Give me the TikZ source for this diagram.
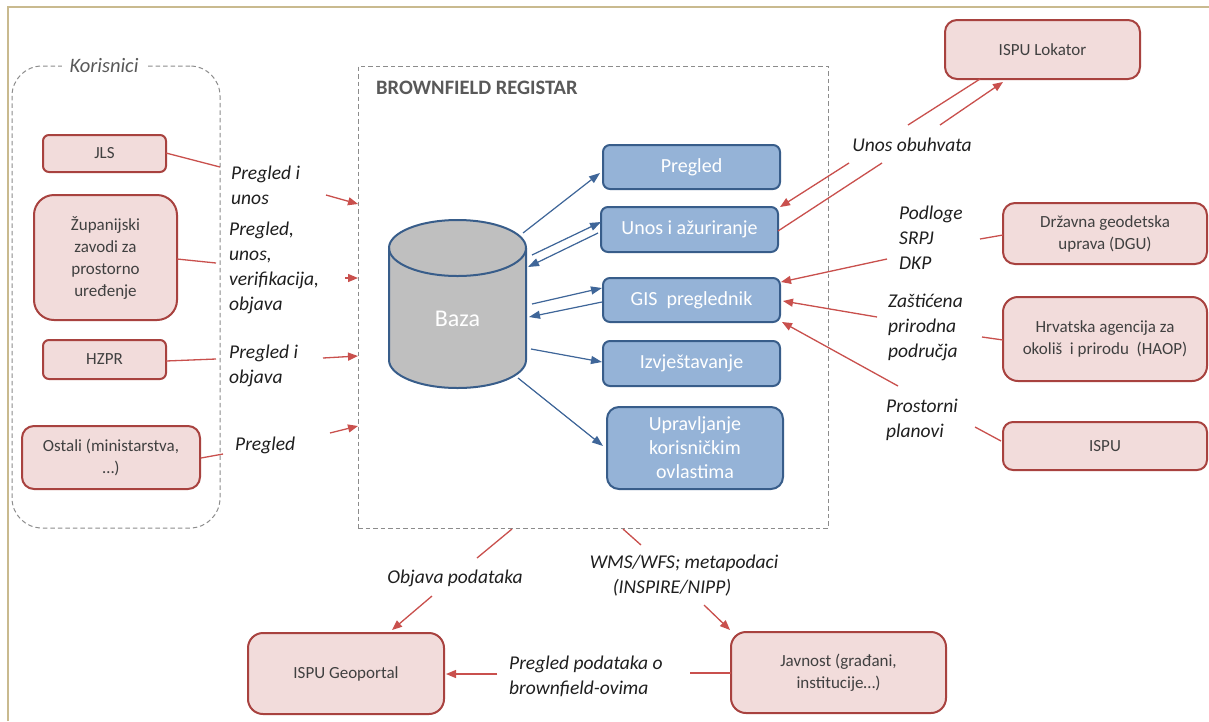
\documentclass[tikz,border=0pt]{standalone}
\usepackage{fontspec}
\setmainfont{Carlito}
\usetikzlibrary{arrows.meta}
\definecolor{redfill}{HTML}{F2DCDB}
\definecolor{redline}{HTML}{A8423F}
\definecolor{redarrow}{HTML}{C9504D}
\definecolor{bluefill}{HTML}{95B3D7}
\definecolor{blueline}{HTML}{385D8A}
\definecolor{bluearrow}{HTML}{3F6699}
\definecolor{frametan}{HTML}{C9BA8F}
\definecolor{dashgray}{HTML}{8C8C8C}
\definecolor{txtgray}{HTML}{404040}
\definecolor{titlegray}{HTML}{595959}
\definecolor{cylgray}{HTML}{BFBFBF}
\begin{document}
\begin{tikzpicture}[x=1pt,y=-1pt,
  redbox/.style={draw=redline,fill=redfill,line width=2pt,rounded corners=#1,text=txtgray,
    font=\fontsize{17}{22}\selectfont,align=center,inner sep=0pt},
  redbox/.default=10pt,
  bluebox/.style={draw=blueline,fill=bluefill,line width=2pt,rounded corners=#1,text=white,
    font=\fontsize{20}{24}\selectfont,align=center,inner sep=0pt},
  bluebox/.default=7pt,
  dashbox/.style={draw=dashgray,line width=1pt,dash pattern=on 4.5pt off 3pt,inner sep=0pt},
  lbl/.style={font=\fontsize{19.5}{25}\selectfont\itshape,align=left,inner sep=0pt,text=black!88},
  redline/.style={draw=redarrow,line width=1.3pt},
  redarr/.style={draw=redarrow,line width=1.3pt,-{Triangle[length=10pt,width=8pt]},fill=redarrow},
  bluearr/.style={draw=bluearrow,line width=1.2pt,-{Triangle[length=11pt,width=8pt]},fill=bluearrow},
]
\useasboundingbox (0,0) rectangle (1209,721);
\fill[white] (0,0) rectangle (1209,721);
% frame
\draw[frametan,line width=2pt] (8,721) -- (8,7) -- (1209,7);

% containers
\node[dashbox,rounded corners=30pt,minimum width=208pt,minimum height=462pt] (korisnici) at (116,297) {};
\node[fill=white,inner xsep=8pt,inner ysep=2pt,font=\fontsize{20.5}{24}\selectfont\itshape,text=titlegray] (kortitle) at (104,66) {Korisnici};
\node[dashbox,minimum width=470pt,minimum height=462pt] (registar) at (593,297) {};
\node[anchor=west,inner sep=0pt,font=\fontsize{20.5}{24}\selectfont\bfseries,text=titlegray] (regtitle) at (376,88) {BROWNFIELD REGISTAR};

% cylinder
\path[fill=cylgray] (389,248) -- (389,360) arc[start angle=180,end angle=360,x radius=68.5pt,y radius=28pt]
  -- (526,248) arc[start angle=0,end angle=180,x radius=68.5pt,y radius=28pt] -- cycle;
\draw[blueline,line width=2pt] (389,248) -- (389,360) arc[start angle=180,end angle=360,x radius=68.5pt,y radius=28pt]
  -- (526,248) arc[start angle=0,end angle=180,x radius=68.5pt,y radius=28pt] -- cycle;
\draw[blueline,line width=2pt] (389,248) arc[start angle=180,end angle=360,x radius=68.5pt,y radius=28pt];
\node[text=white,font=\fontsize{24}{28}\selectfont,inner sep=0pt] (baza) at (457.5,319) {Baza};

% left boxes
\node[redbox=6pt,minimum width=123pt,minimum height=37pt] (jls) at (104.5,153.5) {JLS};
\node[redbox=20pt,minimum width=143pt,minimum height=125pt] (zupa) at (105.5,257.5) {Županijski\\zavodi za\\prostorno\\uređenje};
\node[redbox=6pt,minimum width=123pt,minimum height=39pt] (hzpr) at (104.5,359.5) {HZPR};
\node[redbox=12pt,minimum width=178pt,minimum height=63pt] (ostali) at (111,457.5) {Ostali (ministarstva,\\…)};

% blue boxes
\node[bluebox,minimum width=177pt,minimum height=44pt] (pregled) at (691.5,167) {Pregled};
\node[bluebox,minimum width=177pt,minimum height=45pt] (unos) at (689.5,229.5) {Unos i ažuriranje};
\node[bluebox,minimum width=177pt,minimum height=44pt] (gis) at (691.5,300) {GIS\ \ preglednik};
\node[bluebox,minimum width=177pt,minimum height=45pt] (izvj) at (691.5,363.5) {Izvještavanje};
\node[bluebox=12pt,minimum width=176pt,minimum height=82pt] (uprav) at (695,448) {Upravljanje\\korisničkim\\ovlastima};

% right boxes
\node[redbox=12pt,minimum width=195pt,minimum height=59pt] (lokator) at (1042.5,49.5) {ISPU Lokator};
\node[redbox=12pt,minimum width=204pt,minimum height=61pt] (dgu) at (1105,233.5) {Državna geodetska\\uprava (DGU)};
\node[redbox=15pt,minimum width=204pt,minimum height=84pt] (haop) at (1105,339) {Hrvatska agencija za\\okoliš\ \ i prirodu\ \ (HAOP)};
\node[redbox=10pt,minimum width=204pt,minimum height=48pt] (ispu) at (1105,446) {ISPU};

% bottom boxes
\node[redbox=15pt,minimum width=196pt,minimum height=81pt] (geoportal) at (346,673.5) {ISPU Geoportal};
\node[redbox=15pt,minimum width=215pt,minimum height=81pt] (javnost) at (838.5,672.5) {Javnost (građani,\\institucije…)};

% labels
\node[lbl,anchor=west] (l1) at (231,185) {Pregled i\\unos};
\node[lbl,anchor=west] (l2) at (229,268) {Pregled,\\unos,\\verifikacija,\\objava};
\node[lbl,anchor=west] (l3) at (229,366) {Pregled i\\objava};
\node[lbl,anchor=west] (l4) at (235,445) {Pregled};
\node[lbl] (l5) at (912,145) {Unos obuhvata};
\node[lbl,anchor=west] (l6) at (899,238) {Podloge\\SRPJ\\DKP};
\node[lbl,anchor=west] (l7) at (888,327) {Zaštićena\\prirodna\\područja};
\node[lbl,anchor=west] (l8) at (886,420) {Prostorni\\planovi};
\node[lbl] (l9) at (455,578) {Objava\ podataka};
\node[lbl,align=center] (l10) at (684,576) {WMS/WFS; metapodaci\\(INSPIRE/NIPP)\hspace*{24pt}};
\node[lbl,anchor=west] (l11) at (509,676) {Pregled\ podataka\ o\\brownfield-ovima};

% coordinates
\coordinate (p1a) at (220,167);   \coordinate (p1b) at (326,195);  \coordinate (p1c) at (358,204);
\coordinate (p2a) at (216,263);   \coordinate (p2b) at (345,278);  \coordinate (p2c) at (358,278);
\coordinate (p3a) at (216,359);   \coordinate (p3b) at (323,358);  \coordinate (p3c) at (358,356);
\coordinate (p4a) at (223,454);   \coordinate (p4b) at (330,433);  \coordinate (p4c) at (358,426);
\coordinate (jlsE) at (166,153);  \coordinate (zupaE) at (177,259); \coordinate (hzprE) at (166,361); \coordinate (ostE) at (201,458);

\coordinate (b1s) at (523,233); \coordinate (b1e) at (600,173);
\coordinate (b2s) at (532,255); \coordinate (b2e) at (601,222);
\coordinate (b3s) at (598,233); \coordinate (b3e) at (528,267);
\coordinate (b4s) at (532,304); \coordinate (b4e) at (602,288);
\coordinate (b5s) at (602,302); \coordinate (b5e) at (529,317);
\coordinate (b6s) at (531,349); \coordinate (b6e) at (602,362);
\coordinate (b7s) at (518,378); \coordinate (b7e) at (603,446);

\coordinate (r1s) at (980,79);  \coordinate (r1e) at (908,125);
\coordinate (r2s) at (940,125); \coordinate (r2e) at (1003,82);
\coordinate (r3s) at (849,163); \coordinate (r3e) at (780,207);
\coordinate (r4s) at (778,231); \coordinate (r4e) at (882,163);
\coordinate (r5s) at (1003,235); \coordinate (r5e) at (980,239);
\coordinate (r6s) at (887,259); \coordinate (r6e) at (781,282);
\coordinate (r7s) at (877,317); \coordinate (r7e) at (783,301);
\coordinate (r8s) at (1003,340); \coordinate (r8e) at (982,337);
\coordinate (r9s) at (898,386); \coordinate (r9e) at (782,322);
\coordinate (r10s) at (1001,441); \coordinate (r10e) at (975,427);

\coordinate (d1s) at (512,529); \coordinate (d1e) at (477,558);
\coordinate (d2s) at (432,596); \coordinate (d2e) at (392,630);
\coordinate (d3s) at (623,529); \coordinate (d3e) at (641,545);
\coordinate (d4s) at (704,605); \coordinate (d4e) at (730,630);
\coordinate (d5s) at (731,673); \coordinate (d5e) at (690,673);
\coordinate (d6s) at (497,674); \coordinate (d6e) at (446,674);

% left connectors
\draw[redline] (jlsE) -- (p1a);  \draw[redarr] (p1b) -- (p1c);
\draw[redline] (zupaE) -- (p2a); \draw[redarr] (p2b) -- (p2c);
\draw[redline] (hzprE) -- (p3a); \draw[redarr] (p3b) -- (p3c);
\draw[redline] (ostE) -- (p4a);  \draw[redarr] (p4b) -- (p4c);

% blue connectors
\draw[bluearr] (b1s) -- (b1e);
\draw[bluearr] (b2s) -- (b2e);
\draw[bluearr] (b3s) -- (b3e);
\draw[bluearr] (b4s) -- (b4e);
\draw[bluearr] (b5s) -- (b5e);
\draw[bluearr] (b6s) -- (b6e);
\draw[bluearr] (b7s) -- (b7e);

% right connectors
\draw[redline] (r1s) -- (r1e);
\draw[redarr] (r2s) -- (r2e);
\draw[redarr] (r3s) -- (r3e);
\draw[redline] (r4s) -- (r4e);
\draw[redline] (r5s) -- (r5e);
\draw[redarr] (r6s) -- (r6e);
\draw[redarr] (r7s) -- (r7e);
\draw[redline] (r8s) -- (r8e);
\draw[redarr] (r9s) -- (r9e);
\draw[redline] (r10s) -- (r10e);

% bottom connectors
\draw[redline] (d1s) -- (d1e);
\draw[redarr] (d2s) -- (d2e);
\draw[redline] (d3s) -- (d3e);
\draw[redarr] (d4s) -- (d4e);
\draw[redline] (d5s) -- (d5e);
\draw[redarr] (d6s) -- (d6e);
\end{tikzpicture}
\end{document}
